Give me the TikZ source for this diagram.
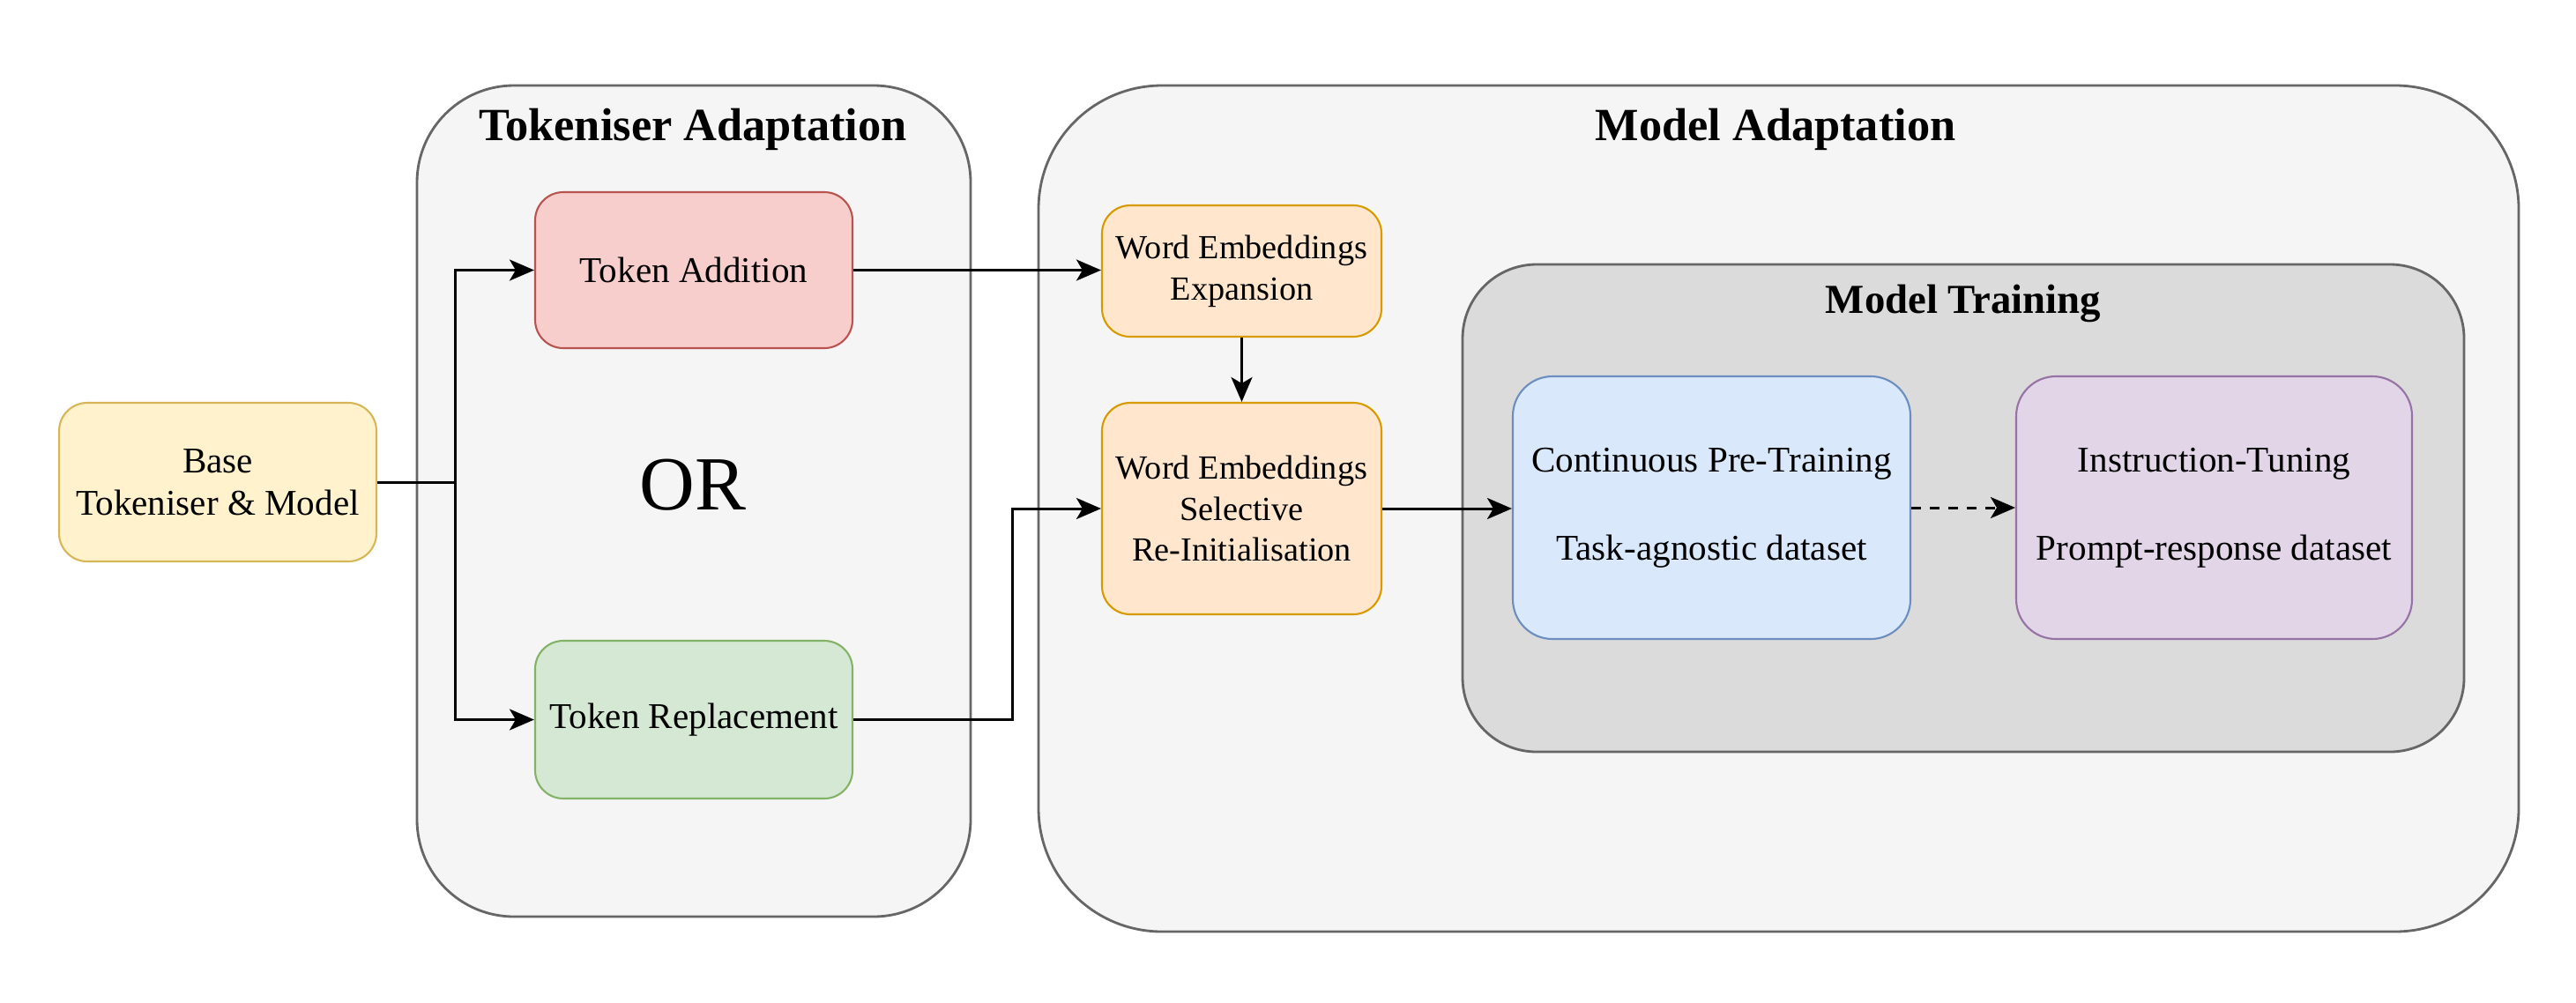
\documentclass[tikz,border=0pt]{standalone}
\usepackage{fontspec}
\setmainfont{Liberation Serif}
\usetikzlibrary{arrows.meta,positioning}

\definecolor{yellowfill}{HTML}{FFF2CC}\definecolor{yellowline}{HTML}{D6B656}
\definecolor{redfill}{HTML}{F8CECC}\definecolor{redline}{HTML}{B85450}
\definecolor{greenfill}{HTML}{D5E8D4}\definecolor{greenline}{HTML}{82B366}
\definecolor{orangefill}{HTML}{FFE6CC}\definecolor{orangeline}{HTML}{D79B00}
\definecolor{bluefill}{HTML}{DAE8FC}\definecolor{blueline}{HTML}{6C8EBF}
\definecolor{purplefill}{HTML}{E1D5E7}\definecolor{purpleline}{HTML}{9673A6}
\definecolor{groupfill}{HTML}{F5F5F5}\definecolor{groupline}{HTML}{666666}
\definecolor{trainfill}{HTML}{DBDBDB}

\tikzset{
  box/.style={draw, rectangle, line width=0.6pt, rounded corners=0.32cm, align=center,
    font=\fontsize{11.7}{13.7}\selectfont},
  smallbox/.style={box, font=\fontsize{10.9}{13.3}\selectfont},
  group/.style={draw=groupline, fill=groupfill, rectangle, line width=0.8pt},
  grouptitle/.style={font=\bfseries\fontsize{14.9}{17}\selectfont},
  flow/.style={-{Stealth[length=0.28cm, width=0.24cm, inset=0.07cm]}, line width=0.85pt},
}

\begin{document}
\begin{tikzpicture}
\useasboundingbox (0,0) rectangle (29.22,-11.37);

% containers
\node[group, rounded corners=1.1cm, minimum width=6.28cm, minimum height=9.43cm] (tokcont) at (7.87,-5.685) {};
\node[grouptitle] (toktitle) at (7.86,-1.47) {Tokeniser Adaptation};
\node[group, rounded corners=1.4cm, minimum width=16.79cm, minimum height=9.60cm] (modcont) at (20.175,-5.77) {};
\node[grouptitle] (modtitle) at (20.14,-1.47) {Model Adaptation};
\node[group, fill=trainfill, rounded corners=0.84cm, minimum width=11.36cm, minimum height=5.53cm] (traincont) at (22.27,-5.765) {};
\node[grouptitle, font=\bfseries\fontsize{13.3}{15}\selectfont] (traintitle) at (22.27,-3.44) {Model Training};

% boxes
\node[box, draw=yellowline, fill=yellowfill, minimum width=3.6cm, minimum height=1.8cm] (base) at (2.47,-5.47) {Base\\Tokeniser \& Model};
\node[box, draw=redline, fill=redfill, minimum width=3.6cm, minimum height=1.77cm] (add) at (7.87,-3.065) {Token Addition};
\node[font=\fontsize{24.7}{28}\selectfont] (or) at (7.86,-5.50) {OR};
\node[box, draw=greenline, fill=greenfill, minimum width=3.6cm, minimum height=1.79cm] (repl) at (7.87,-8.165) {Token Replacement};
\node[smallbox, draw=orangeline, fill=orangefill, minimum width=3.17cm, minimum height=1.49cm] (expand) at (14.085,-3.075) {Word Embeddings\\Expansion};
\node[smallbox, draw=orangeline, fill=orangefill, minimum width=3.17cm, minimum height=2.4cm] (reinit) at (14.085,-5.77) {Word Embeddings\\Selective\\Re-Initialisation};
\node[box, draw=blueline, fill=bluefill, rounded corners=0.45cm, minimum width=4.51cm, minimum height=2.98cm] (cpt) at (19.415,-5.76) {Continuous Pre-Training\\[0.52cm]Task-agnostic dataset};
\node[box, draw=purpleline, fill=purplefill, rounded corners=0.45cm, minimum width=4.49cm, minimum height=2.98cm] (tune) at (25.115,-5.76) {Instruction-Tuning\\[0.52cm]Prompt-response dataset};

% connectors
\coordinate (split) at (5.16,-5.47);
\draw[line width=0.85pt] (base.east) -- (split);
\draw[flow] (split) |- (add.west);
\draw[flow] (split) |- (repl.west);
\draw[flow] (add.east) -- (add.east -| expand.west);
\coordinate (bend) at (11.48,-8.165);
\draw[flow] (repl.east) -- (bend) |- (reinit.west);
\draw[flow] (expand.south) -- (reinit.north);
\draw[flow] (reinit.east) -- (reinit.east -| cpt.west);
\draw[flow, dashed] (cpt.east) -- (cpt.east -| tune.west);
\end{tikzpicture}
\end{document}
